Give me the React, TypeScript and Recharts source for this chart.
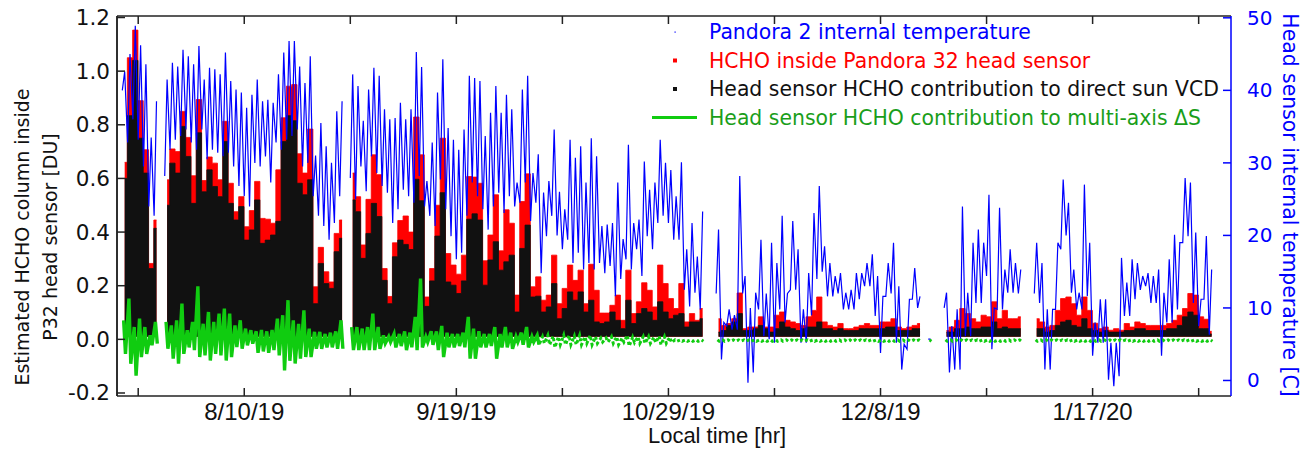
import React from 'react';
import { ComposedChart, Area, Line, XAxis, YAxis, Legend, Label, ReferenceLine } from 'recharts';

// x = days since 17 Jul 2019 (local); index i of the daily arrays is day i + 1
const dateTicks = [4, 24, 44, 64, 84, 104, 124, 144, 164, 184, 204];
const dateTickLabels = ['', '8/10/19', '', '9/19/19', '', '10/29/19', '', '12/8/19', '', '1/17/20', ''];
const hchoTicks = [-0.2, 0, 0.2, 0.4, 0.6, 0.8, 1.0, 1.2];
const tempTicks = [0, 10, 20, 30, 40, 50];

const hchoNightLevel = 0.01;

// daily maximum of HCHO inside the P32 head sensor [DU]
const hchoInside: (number | null)[] = [
  /*1*/ 0.66, 1.05, 1.153, 0.89, 0.707, 0.283, 0.445, null, 0.595, 0.71,
  /*11*/ 0.7, 0.85, 0.753, 0.61, 0.894, 0.592, 0.68, 0.657, 0.595, 0.813,
  /*21*/ 0.582, 0.476, 0.532, 0.42, 0.48, 0.589, 0.451, 0.448, 0.433, 0.632,
  /*31*/ 0.826, 0.944, 0.95, 0.692, 0.62, 0.784, 0.196, 0.343, 0.252, 0.214,
  /*41*/ 0.395, 0.445, null, 0.62, 0.532, 0.352, 0.522, 0.688, 0.614, 0.264,
  /*51*/ 0.16, 0.36, 0.443, 0.46, 0.4, 0.829, 0.688, 0.158, 0.264, 0.5,
  /*61*/ 0.75, 0.32, 0.277, 0.243, 0.314, 0.607, 0.605, 0.582, 0.293, 0.389,
  /*71*/ 0.539, 0.33, 0.483, 0.433, 0.165, 0.514, 0.617, 0.196, 0.233, 0.146,
  /*81*/ 0.165, 0.314, 0.133, 0.19, 0.277, 0.22, 0.258, 0.133, 0.28, 0.183,
  /*91*/ 0.098, 0.098, 0.127, 0.165, 0.071, 0.258, 0.096, 0.14, 0.211, 0.183,
  /*101*/ 0.121, 0.277, 0.208, 0.152, 0.115, 0.208, 0.065, 0.096, 0.071, 0.115,
  /*111*/ null, null, 0.077, 0.052, 0.059, 0.077, 0.173, 0.04, 0.046, 0.046,
  /*121*/ 0.084, 0.046, 0.046, 0.09, 0.102, 0.071, 0.065, 0.059, 0.052, 0.084,
  /*131*/ 0.108, 0.158, 0.065, 0.052, 0.046, 0.059, 0.04, 0.04, 0.046, 0.052,
  /*141*/ 0.059, 0.052, 0.052, 0.065, 0.065, 0.077, 0.046, 0.04, 0.046, 0.052,
  /*151*/ 0.059, null, 0.027, null, null, 0.033, 0.046, 0.071, 0.115, 0.096,
  /*161*/ 0.077, 0.065, 0.09, 0.084, 0.14, 0.077, 0.108, 0.077, 0.077, 0.084,
  /*171*/ null, null, 0.077, 0.065, 0.046, 0.052, 0.108, 0.152, 0.158, 0.133,
  /*181*/ 0.09, 0.158, 0.108, 0.06, 0.04, 0.046, 0.034, 0.04, 0.034, 0.059,
  /*191*/ 0.046, 0.065, 0.059, 0.052, 0.052, 0.052, 0.052, 0.059, 0.071, 0.09,
  /*201*/ 0.115, 0.171, 0.165, 0.084, 0.075, 0.03,
];

// daily maximum of the head-sensor contribution to the direct-sun VCD [DU]
const hchoDirectSun: (number | null)[] = [
  /*1*/ 0.6, 0.834, 1.04, 0.75, 0.62, 0.264, 0.414, null, 0.5, 0.657,
  /*11*/ 0.62, 0.794, 0.682, 0.507, 0.77, 0.55, 0.632, 0.57, 0.532, 0.738,
  /*21*/ 0.507, 0.445, 0.495, 0.37, 0.408, 0.52, 0.358, 0.37, 0.389, 0.44,
  /*31*/ 0.738, 0.834, 0.815, 0.582, 0.539, 0.595, 0.133, 0.283, 0.208, 0.19,
  /*41*/ 0.327, 0.377, null, 0.52, 0.476, 0.302, 0.395, 0.507, 0.458, 0.22,
  /*51*/ 0.133, 0.308, 0.37, 0.354, 0.335, 0.597, 0.517, 0.123, 0.218, 0.385,
  /*61*/ 0.547, 0.214, 0.202, 0.171, 0.218, 0.448, 0.468, 0.445, 0.202, 0.296,
  /*71*/ 0.364, 0.258, 0.289, 0.314, 0.102, 0.339, 0.426, 0.158, 0.161, 0.102,
  /*81*/ 0.121, 0.208, 0.077, 0.115, 0.177, 0.146, 0.177, 0.102, 0.146, 0.065,
  /*91*/ 0.059, 0.065, 0.102, 0.071, 0.04, 0.146, 0.059, 0.096, 0.115, 0.102,
  /*101*/ 0.071, 0.14, 0.102, 0.077, 0.09, 0.096, 0.046, 0.065, 0.065, 0.077,
  /*111*/ null, null, 0.027, 0.033, 0.052, 0.065, 0.096, 0.033, 0.033, 0.04,
  /*121*/ 0.052, 0.04, 0.027, 0.04, 0.065, 0.046, 0.04, 0.033, 0.04, 0.046,
  /*131*/ 0.046, 0.065, 0.04, 0.04, 0.033, 0.04, 0.033, 0.033, 0.033, 0.04,
  /*141*/ 0.04, 0.04, 0.04, 0.04, 0.046, 0.046, 0.033, 0.033, 0.033, 0.04,
  /*151*/ 0.04, null, 0.02, null, null, 0.027, 0.027, 0.04, 0.04, 0.046,
  /*161*/ 0.04, 0.04, 0.046, 0.046, 0.065, 0.04, 0.046, 0.04, 0.04, 0.04,
  /*171*/ null, null, 0.04, 0.04, 0.027, 0.033, 0.052, 0.065, 0.071, 0.052,
  /*181*/ 0.046, 0.077, 0.04, 0.033, 0.027, 0.033, 0.027, 0.027, 0.027, 0.033,
  /*191*/ 0.033, 0.04, 0.04, 0.033, 0.033, 0.033, 0.033, 0.04, 0.04, 0.052,
  /*201*/ 0.084, 0.102, 0.09, 0.04, 0.04, 0.02,
];

// Pandora 2 internal temperature [C]: daily minimum and maximum
const tempMin: (number | null)[] = [
  /*1*/ 40, 32.8, 36, 33.2, 29.5, 24, 22.7, null, 28.2, 31.8,
  /*11*/ 33.2, 33.7, 34.6, 32.8, 31.8, 34.6, 30.5, 31.8, 31.4, 30.9,
  /*21*/ 31.4, 29.5, 26.8, 25.4, 24, 30, 29.5, 30.9, 27.3, 32.8,
  /*31*/ 31.8, 33.2, 33.7, 34.6, 29.5, 30, 25.4, 22.7, 21.3, 19.4,
  /*41*/ 21.7, 25.4, null, 27.9, 25, 29.5, 26.1, 30.9, 28.6, 26.8,
  /*51*/ 25.9, 21.7, 23.6, 26.3, 25.4, 24.5, 28.2, 24, 22.7, 21.3,
  /*61*/ 27.7, 23.6, 19.9, 16.7, 17.6, 22.7, 27.3, 25.4, 23.6, 20.8,
  /*71*/ 24, 25.9, 23.1, 25.4, 24, 24.5, 27.3, 22, 24.5, 14.8,
  /*81*/ 19.9, 22.7, 20, 18.1, 19.4, 16.2, 17.6, 15.3, 16.2, 15.3,
  /*91*/ 16.2, 14.8, 15.8, 11.6, 14, 16.7, 15.3, 18.1, 14.4, 19.9,
  /*101*/ 18.1, 21.7, 22.7, 21.7, 19.4, 19.4, 12.5, 10.2, 12.1, 9.8,
  /*111*/ null, null, 12, 2.9, 7.5, 7, 7, 12, -0.3, 1.1,
  /*121*/ 9.8, 6.1, 5.7, 5.2, 9.8, 8, 12.5, 12.5, 5.2, 5.2,
  /*131*/ 9, 14, 15, 11.6, 11.6, 12, 9.8, 9.8, 9.8, 11.2,
  /*141*/ 13, 13, 8.9, 3.8, 11.6, 12, 5.2, 1.5, 4.3, 11.2,
  /*151*/ 10, null, 5.7, null, null, 10, 1.1, 1.5, 1.5, 6.1,
  /*161*/ 6.1, 10.7, 10.7, 14.4, 4.3, 9.8, 9.8, 12.1, 12.1, 12,
  /*171*/ null, null, 12, 10.7, 1.5, 1.5, 9.8, 18.1, 20, 12.1,
  /*181*/ 9.8, 9.8, 11.6, 3.4, 5.2, 5.2, 0.1, -0.8, 0.6, 8.9,
  /*191*/ 8.9, 11.2, 12.5, 13, 10.7, 10.7, 3.4, 8, 8, 9.8,
  /*201*/ 19, 19.9, 10.7, 7.5, 11.2, 6.3,
];
const tempMax: (number | null)[] = [
  /*1*/ 42.6, 45, 48.9, 46.2, 43.6, 33.5, 38.5, null, 41.5, 43.8,
  /*11*/ 43.3, 45.6, 44.7, 43.6, 46.1, 41.5, 43.1, 42.9, 42.2, 45.2,
  /*21*/ 41.3, 40.1, 39.7, 37.6, 39.4, 41.5, 38.5, 38.7, 38.3, 42.2,
  /*31*/ 45.2, 46.8, 46.8, 43.3, 41, 44.7, 31, 35.5, 32.3, 30,
  /*41*/ 37.1, 38.5, null, 42.2, 40.6, 35.8, 40.1, 43.1, 42, 37.4,
  /*51*/ 36, 36.2, 38.3, 36, 37.4, 45.3, 43.2, 27.5, 32.8, 39.7,
  /*61*/ 44.3, 34.8, 33.2, 31.8, 34.6, 42, 41.7, 41.3, 33.7, 36.9,
  /*71*/ 40.6, 36.9, 39.4, 37.4, 27.3, 40.1, 42, 28.6, 31.2, 25.9,
  /*81*/ 27.5, 34.6, 26, 23.6, 33.2, 30.7, 32.3, 27.3, 33.4, 30.9,
  /*91*/ 21.3, 21.5, 21.7, 27.3, 19.5, 32.5, 21.7, 22.2, 30.2, 26.3,
  /*101*/ 27.3, 33.2, 30, 29, 25.4, 30.1, 18.1, 21.7, 17.1, 23.3,
  /*111*/ null, null, 20.8, 8, 9.8, 9, 28.2, 14.4, 10, 12.1,
  /*121*/ 19.4, 12, 19, 16.2, 22.7, 12, 22, 18.1, 9.8, 14.8,
  /*131*/ 23.1, 26.8, 18.5, 16.2, 14.4, 14.8, 12.1, 12.5, 14.8, 14.8,
  /*141*/ 16.2, 17.4, 14.4, 11.6, 16.2, 19, 13, 5, 11.2, 15.5,
  /*151*/ 11.6, null, 5.7, null, null, 12.1, 7.5, 9.8, 24, 12.1,
  /*161*/ 19, 20.8, 19, 25.6, 10, 23.8, 15.3, 18.1, 16.2, 15.3,
  /*171*/ null, null, 19, 16.2, 9.8, 9.8, 19, 27.7, 24.5, 15.3,
  /*181*/ 12.1, 27, 19, 8, 11.2, 11.2, 5.2, 5.2, 16.9, 13.5,
  /*191*/ 16.7, 16.2, 14.4, 14.8, 14.4, 15.3, 12.1, 16.7, 20.1, 19,
  /*201*/ 27.9, 27.3, 20.4, 11.2, 19.9, 15.3,
];

// head-sensor contribution to the multi-axis dSCD [DU]: daily high and low excursion
const maxdoasHigh: (number | null)[] = [
  /*1*/ 0.071, 0.152, 0.046, 0.077, 0.046, 0.015, 0.065, null, 0.065, 0.052,
  /*11*/ 0.071, 0.133, 0.034, 0.065, 0.198, 0.058, 0.102, 0.065, 0.096, 0.115,
  /*21*/ 0.096, 0.052, 0.071, 0.04, 0.034, 0.03, 0.035, 0.03, 0.035, 0.077,
  /*31*/ 0.09, 0.146, 0.071, 0.058, 0.108, 0.04, 0.028, 0.028, 0.02, 0.025,
  /*41*/ 0.03, 0.071, null, 0.046, 0.046, 0.04, 0.046, 0.096, 0.046, 0.015,
  /*51*/ 0.01, 0.02, 0.02, 0.03, 0.025, 0.084, 0.227, 0.01, 0.03, 0.03,
  /*61*/ 0.05, 0.025, 0.02, 0.02, 0.025, 0.084, 0.04, 0.03, 0.02, 0.02,
  /*71*/ 0.046, 0.02, 0.046, 0.025, 0.01, 0.025, 0.046, 0.01, 0.015, 0.01,
  /*81*/ 0.015, 0.012, 0.01, 0.015, 0.015, 0.012, 0.015, 0.01, 0.015, 0.01,
  /*91*/ 0.005, 0.005, 0.01, 0.01, 0.005, 0.015, 0.008, 0.01, 0.01, 0.01,
  /*101*/ 0.008, 0.012, 0.01, 0.008, -0.002, -0.002, -0.002, -0.002, -0.002, -0.002,
  /*111*/ null, null, -0.002, -0.002, -0.002, -0.002, -0.002, -0.002, -0.002, -0.002,
  /*121*/ -0.002, -0.002, -0.002, -0.002, -0.002, -0.002, -0.002, -0.002, -0.002, -0.002,
  /*131*/ -0.002, -0.002, -0.002, -0.002, -0.002, -0.002, -0.002, -0.002, -0.002, -0.002,
  /*141*/ -0.002, -0.002, -0.002, -0.002, -0.002, -0.002, -0.002, -0.002, -0.002, -0.002,
  /*151*/ -0.002, null, -0.002, null, null, -0.002, -0.002, -0.002, -0.002, -0.002,
  /*161*/ -0.002, -0.002, -0.002, -0.002, -0.002, -0.002, -0.002, -0.002, -0.002, -0.002,
  /*171*/ null, null, -0.002, -0.002, -0.002, -0.002, -0.002, -0.002, -0.002, -0.002,
  /*181*/ -0.002, -0.002, -0.002, -0.002, -0.002, -0.002, -0.002, -0.002, -0.002, -0.002,
  /*191*/ -0.002, -0.002, -0.002, -0.002, -0.002, -0.002, -0.002, -0.002, -0.002, -0.002,
  /*201*/ -0.002, -0.002, -0.002, -0.002, -0.002, -0.002,
];
const maxdoasLow: (number | null)[] = [
  /*1*/ -0.054, -0.091, -0.135, -0.066, -0.054, -0.022, -0.016, null, -0.035, -0.072,
  /*11*/ -0.091, -0.054, -0.03, -0.04, -0.066, -0.06, -0.079, -0.054, -0.06, -0.079,
  /*21*/ -0.066, -0.029, -0.035, -0.022, -0.016, -0.05, -0.045, -0.05, -0.04, -0.06,
  /*31*/ -0.116, -0.08, -0.09, -0.072, -0.066, -0.066, -0.035, -0.035, -0.03, -0.03,
  /*41*/ -0.035, -0.035, null, -0.04, -0.04, -0.04, -0.04, -0.04, -0.035, -0.015,
  /*51*/ -0.01, -0.03, -0.025, -0.04, -0.03, -0.04, -0.03, -0.01, -0.02, -0.04,
  /*61*/ -0.066, -0.03, -0.03, -0.025, -0.03, -0.072, -0.072, -0.03, -0.03, -0.025,
  /*71*/ -0.072, -0.03, -0.03, -0.035, -0.01, -0.02, -0.03, -0.01, -0.02, -0.015,
  /*81*/ -0.02, -0.03, -0.02, -0.02, -0.02, -0.02, -0.02, -0.015, -0.02, -0.015,
  /*91*/ -0.01, -0.01, -0.015, -0.02, -0.01, -0.025, -0.012, -0.015, -0.015, -0.015,
  /*101*/ -0.012, -0.02, -0.015, -0.012, -0.007, -0.007, -0.007, -0.007, -0.007, -0.007,
  /*111*/ null, null, -0.007, -0.007, -0.007, -0.007, -0.007, -0.007, -0.007, -0.007,
  /*121*/ -0.007, -0.007, -0.007, -0.007, -0.007, -0.007, -0.007, -0.007, -0.007, -0.007,
  /*131*/ -0.007, -0.007, -0.007, -0.007, -0.007, -0.007, -0.007, -0.007, -0.007, -0.007,
  /*141*/ -0.007, -0.007, -0.007, -0.007, -0.007, -0.007, -0.007, -0.007, -0.007, -0.007,
  /*151*/ -0.007, null, -0.007, null, null, -0.007, -0.007, -0.007, -0.007, -0.007,
  /*161*/ -0.007, -0.007, -0.007, -0.007, -0.007, -0.007, -0.007, -0.007, -0.007, -0.007,
  /*171*/ null, null, -0.007, -0.007, -0.007, -0.007, -0.007, -0.007, -0.007, -0.007,
  /*181*/ -0.007, -0.007, -0.007, -0.007, -0.007, -0.007, -0.007, -0.007, -0.007, -0.007,
  /*191*/ -0.007, -0.007, -0.007, -0.007, -0.007, -0.007, -0.007, -0.007, -0.007, -0.007,
  /*201*/ -0.007, -0.007, -0.007, -0.007, -0.007, -0.007,
];

// ---------- tables built from the arrays ----------
const dayOf = (i: number) => i + 1;

const hchoRows = hchoInside.map((r, i) => ({
  x: dayOf(i) + 0.45,
  inside: r,
  direct: hchoDirectSun[i],
}));

const tempRows: { x: number; t: number | null }[] = [];
tempMin.forEach((lo, i) => {
  const d = dayOf(i);
  if (lo == null || tempMax[i] == null) {
    tempRows.push({ x: d + 0.2, t: null });
  } else {
    tempRows.push({ x: d, t: lo });
    tempRows.push({ x: d + 0.45, t: tempMax[i] as number });
  }
});

const greenRows = (fromDay: number, toDay: number) => {
  const rows: { x: number; g: number | null }[] = [];
  maxdoasHigh.forEach((hi, i) => {
    const d = dayOf(i);
    if (d < fromDay || d > toDay) return;
    if (hi == null || maxdoasLow[i] == null) {
      rows.push({ x: d + 0.4, g: null });
    } else {
      rows.push({ x: d + 0.25, g: hi });
      rows.push({ x: d + 0.6, g: maxdoasLow[i] as number });
    }
  });
  return rows;
};
const greenEarly = greenRows(1, 79);
const greenLate = greenRows(79, 206);

// ---------- styling ----------
const FONT = '"DejaVu Sans", Verdana, sans-serif';
const XFONT = '"Liberation Sans", Arial, sans-serif';
const BLUE = '#0000ff';
const RED = '#ff0000';
const BLACK = '#111111';
const GREEN = '#10cc10';
const GREEN_TEXT = '#1a9e1a';
const AXIS = '#222222';

const xDomain: [number, number] = [0, 210.1];
const hchoDomain: [number, number] = [-0.2112, 1.2056];
const tempDomain: [number, number] = [-2.14, 50.25];

function BottomTick(props: any) {
  const { x, y, payload } = props;
  const idx = dateTicks.indexOf(payload.value);
  const label = idx >= 0 ? dateTickLabels[idx] : '';
  return (
    <g>
      <line x1={x} x2={x} y1={y} y2={y - 8} stroke={AXIS} strokeWidth={1.5} />
      {label ? (
        <text x={x} y={y + 15} textAnchor="middle" dominantBaseline="central" fontFamily={XFONT} fontSize={24} fill={BLACK}>
          {label}
        </text>
      ) : null}
    </g>
  );
}

function TopTick(props: any) {
  const { x, y } = props;
  return <line x1={x} x2={x} y1={y} y2={y + 8} stroke={AXIS} strokeWidth={1.5} />;
}

function LeftTick(props: any) {
  const { x, y, payload } = props;
  return (
    <g>
      <line x1={x} x2={x + 8} y1={y} y2={y} stroke={AXIS} strokeWidth={1.5} />
      <text x={x - 7} y={y} textAnchor="end" dominantBaseline="central" fontFamily={FONT} fontSize={21.5} fill={BLACK}>
        {Number(payload.value).toFixed(1)}
      </text>
    </g>
  );
}

function RightTick(props: any) {
  const { x, y, payload } = props;
  return (
    <g>
      <line x1={x} x2={x - 8} y1={y} y2={y} stroke={BLUE} strokeWidth={1.5} />
      <text x={x + 16} y={y} textAnchor="start" dominantBaseline="central" fontFamily={FONT} fontSize={20} fill={BLUE}>
        {String(payload.value)}
      </text>
    </g>
  );
}

const leftTitle = () => (
  <g fontFamily={FONT} fontSize={19} fill={BLACK}>
    <text transform="translate(22 237) rotate(-90)" textAnchor="middle" dominantBaseline="central">
      Estimated HCHO column inside
    </text>
    <text transform="translate(50 237) rotate(-90)" textAnchor="middle" dominantBaseline="central">
      P32 head sensor [DU]
    </text>
  </g>
);

const rightTitle = () => (
  <text
    transform="translate(1290 205) rotate(90)"
    textAnchor="middle"
    dominantBaseline="central"
    fontFamily={FONT}
    fontSize={20.4}
    fill={BLUE}
  >
    Head sensor internal temperature [C]
  </text>
);

const bottomTitle = () => (
  <text x={717} y={435} textAnchor="middle" dominantBaseline="central" fontFamily={XFONT} fontSize={22} fill={BLACK}>
    Local time [hr]
  </text>
);

const legendContent = () => (
  <svg width={600} height={120} style={{ display: 'block', overflow: 'visible' }}>
    <g fontFamily={FONT} fontSize={20.4}>
      <rect x={34.5} y={17.5} width={1.2} height={1.2} fill={BLUE} />
      <text x={69} y={18} fill={BLUE} dominantBaseline="central">
        Pandora 2 internal temperature
      </text>
      <rect x={33} y={44.5} width={4} height={4} fill={RED} />
      <text x={69} y={46.5} fill={RED} dominantBaseline="central">
        HCHO inside Pandora 32 head sensor
      </text>
      <rect x={33} y={73} width={4} height={4} fill={BLACK} />
      <text x={69} y={75} fill={BLACK} dominantBaseline="central">
        Head sensor HCHO contribution to direct sun VCD
      </text>
      <line x1={12} x2={57} y1={103.5} y2={103.5} stroke={GREEN} strokeWidth={3} />
      <text x={69} y={103.5} fill={GREEN_TEXT} dominantBaseline="central">
        Head sensor HCHO contribution to multi-axis ΔS
      </text>
    </g>
  </svg>
);

export default function App() {
  return (
    <div style={{ position: 'absolute', left: 0, top: 0, width: 1312, height: 450, background: '#fff' }}>
      <ComposedChart
        width={1312}
        height={450}
        data={hchoRows}
        margin={{ top: 15, right: 31, bottom: 24, left: 57 }}
        style={{ fontFamily: FONT }}
      >
        <XAxis
          xAxisId="main"
          dataKey="x"
          type="number"
          domain={xDomain}
          allowDataOverflow
          ticks={dateTicks}
          interval={0}
          height={30}
          tickSize={0}
          tickMargin={0}
          tickLine={false}
          tick={<BottomTick />}
          axisLine={{ stroke: AXIS, strokeWidth: 1.5 }}
        >
          <Label content={bottomTitle} />
        </XAxis>
        <XAxis
          xAxisId="top"
          orientation="top"
          dataKey="x"
          type="number"
          domain={xDomain}
          allowDataOverflow
          ticks={dateTicks}
          interval={0}
          height={1}
          tickSize={0}
          tickMargin={0}
          tickLine={false}
          tick={<TopTick />}
          axisLine={{ stroke: AXIS, strokeWidth: 1.5 }}
        />
        <YAxis
          yAxisId="left"
          type="number"
          domain={hchoDomain}
          allowDataOverflow
          ticks={hchoTicks}
          interval={0}
          width={60}
          tickSize={0}
          tickMargin={0}
          tickLine={false}
          tick={<LeftTick />}
          axisLine={{ stroke: AXIS, strokeWidth: 1.5 }}
        >
          <Label content={leftTitle} />
        </YAxis>
        <YAxis
          yAxisId="right"
          orientation="right"
          type="number"
          domain={tempDomain}
          allowDataOverflow
          ticks={tempTicks}
          interval={0}
          width={50}
          tickSize={0}
          tickMargin={0}
          tickLine={false}
          tick={<RightTick />}
          axisLine={{ stroke: BLUE, strokeWidth: 1.5 }}
        >
          <Label content={rightTitle} />
        </YAxis>

        <ReferenceLine xAxisId="main" yAxisId="left" x={0} stroke={AXIS} strokeWidth={1.5} />

        <Line
          data={tempRows}
          xAxisId="main"
          yAxisId="right"
          dataKey="t"
          stroke={BLUE}
          strokeWidth={1.2}
          dot={false}
          activeDot={false}
          isAnimationActive={false}
        />
        <Area
          xAxisId="main"
          yAxisId="left"
          dataKey="inside"
          type="step"
          baseValue={hchoNightLevel}
          fill={RED}
          fillOpacity={1}
          stroke={RED}
          strokeWidth={0.8}
          dot={false}
          activeDot={false}
          isAnimationActive={false}
        />
        <Area
          xAxisId="main"
          yAxisId="left"
          dataKey="direct"
          type="step"
          baseValue={hchoNightLevel}
          fill={BLACK}
          fillOpacity={1}
          stroke={BLACK}
          strokeWidth={0.8}
          dot={false}
          activeDot={false}
          isAnimationActive={false}
        />
        <Line
          data={greenEarly}
          xAxisId="main"
          yAxisId="left"
          dataKey="g"
          stroke={GREEN}
          strokeWidth={3.4}
          dot={false}
          activeDot={false}
          isAnimationActive={false}
        />
        <Line
          data={greenLate}
          xAxisId="main"
          yAxisId="left"
          dataKey="g"
          stroke={GREEN}
          strokeWidth={3}
          strokeDasharray="3 2.5"
          dot={false}
          activeDot={false}
          isAnimationActive={false}
        />
        <Legend
          layout="horizontal"
          verticalAlign="middle"
          align="center"
          content={legendContent}
          wrapperStyle={{ position: 'absolute', left: 640, top: 14, width: 600, height: 120 }}
        />
      </ComposedChart>
    </div>
  );
}
